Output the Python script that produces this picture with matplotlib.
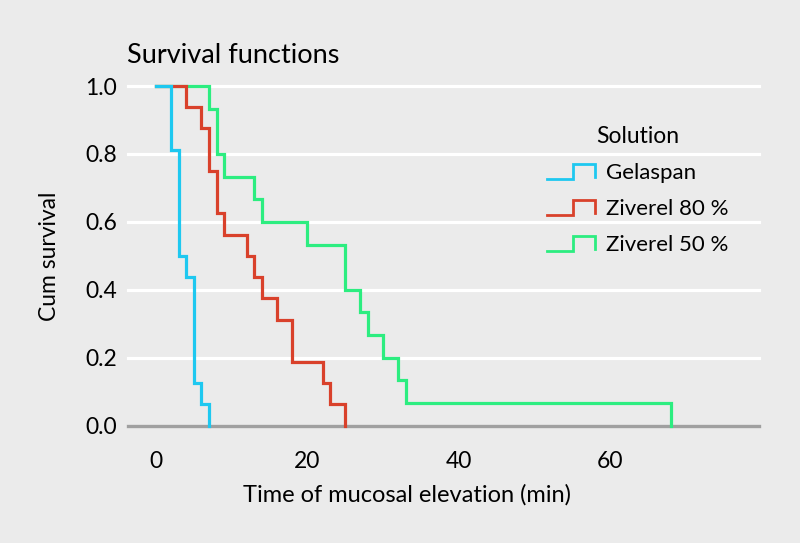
import matplotlib
matplotlib.use("Agg")
import matplotlib.pyplot as plt
from matplotlib.lines import Line2D
from matplotlib.legend_handler import HandlerBase

plt.rcParams['font.family'] = ['Lato', 'DejaVu Sans']

# Data (Kaplan-Meier step functions)
gel_t = [0, 2, 3, 4, 5, 6, 7]
gel_s = [1.0, 0.8125, 0.5, 0.4375, 0.125, 0.0625, 0.0]

z80_t = [0, 4, 6, 7, 8, 9, 12, 13, 14, 16, 18, 22, 23, 25]
z80_s = [1.0, 0.9375, 0.875, 0.75, 0.625, 0.5625, 0.5, 0.4375, 0.375,
         0.3125, 0.1875, 0.125, 0.0625, 0.0]

z50_t = [0, 7, 8, 9, 13, 14, 20, 25, 27, 28, 30, 32, 33, 68]
z50_s = [1.0, 0.9333, 0.8, 0.7333, 0.6667, 0.6, 0.5333, 0.4, 0.3333,
         0.2667, 0.2, 0.1333, 0.0667, 0.0]

labels = ["Gelaspan", "Ziverel 80 %", "Ziverel 50 %"]
colors = ["#1ec8f0", "#d9412b", "#2ced80"]
xticks = [0, 20, 40, 60]
yticks = [0.0, 0.2, 0.4, 0.6, 0.8, 1.0]

bg = "#ebebeb"
fig = plt.figure(figsize=(8.0, 5.43), dpi=100, facecolor=bg)
ax = fig.add_axes([0.16, 0.216, 0.789, 0.6256])
ax.set_facecolor(bg)

ax.set_xlim(-3.7, 79.7)
ax.set_ylim(0, 1.0)

for y in yticks[1:]:
    ax.axhline(y, color="white", lw=2.3, zorder=1, clip_on=False)

series = [(gel_t, gel_s), (z80_t, z80_s), (z50_t, z50_s)]
zorders = [5, 4, 3]
handles = []
for (t, s), lab, c, z in zip(series, labels, colors, zorders):
    ln, = ax.plot(t, s, drawstyle="steps-post", color=c, lw=2.3,
                  zorder=z, clip_on=False, label=lab, solid_joinstyle="miter")
    handles.append(ln)

for sp in ["top", "right", "left"]:
    ax.spines[sp].set_visible(False)
ax.spines["bottom"].set_color("#a0a0a0")
ax.spines["bottom"].set_linewidth(2.4)
ax.spines["bottom"].set_zorder(2)

ax.set_xticks(xticks)
ax.set_xticklabels([str(v) for v in xticks])
ax.set_yticks(yticks)
ax.set_yticklabels([f"{v:.1f}" for v in yticks])
ax.tick_params(axis="both", length=0, labelsize=16.5, colors="black")
ax.tick_params(axis="y", pad=8)
ax.tick_params(axis="x", pad=18)

ax.set_xlabel("Time of mucosal elevation (min)", fontsize=17)
ax.xaxis.label.set_va("baseline")
ax.xaxis.set_label_coords(0.442, -0.2246)
ax.set_ylabel("Cum survival", fontsize=16.5)
ax.yaxis.label.set_va("center")
ax.yaxis.set_label_coords(-0.125, 0.5)

fig.text(127 / 800, 1 - 63 / 543, "Survival functions", fontsize=19.5,
         ha="left", va="baseline")


class StepHandler(HandlerBase):
    def create_artists(self, legend, orig_handle, xdescent, ydescent,
                       width, height, fontsize, trans):
        x0 = -xdescent
        y0 = -ydescent
        xs = [x0, x0 + 0.55 * width, x0 + 0.55 * width, x0 + width, x0 + width]
        ys = [y0 + 0.0 * height, y0 + 0.0 * height, y0 + 1.0 * height,
              y0 + 1.0 * height, y0 + 0.08 * height]
        ln = Line2D(xs, ys, color=orig_handle.get_color(), lw=2.0,
                    solid_joinstyle="miter")
        ln.set_transform(trans)
        return [ln]


leg = fig.legend(handles, labels, handler_map={Line2D: StepHandler()},
                 loc="upper left", bbox_to_anchor=(0.684, 0.768),
                 frameon=False, title="Solution", fontsize=16,
                 title_fontsize=16.5, handlelength=2.15, handleheight=0.65,
                 handletextpad=0.5, labelspacing=0.72, borderpad=0,
                 borderaxespad=0)

fig.savefig("out.png", dpi=100, facecolor=bg)
